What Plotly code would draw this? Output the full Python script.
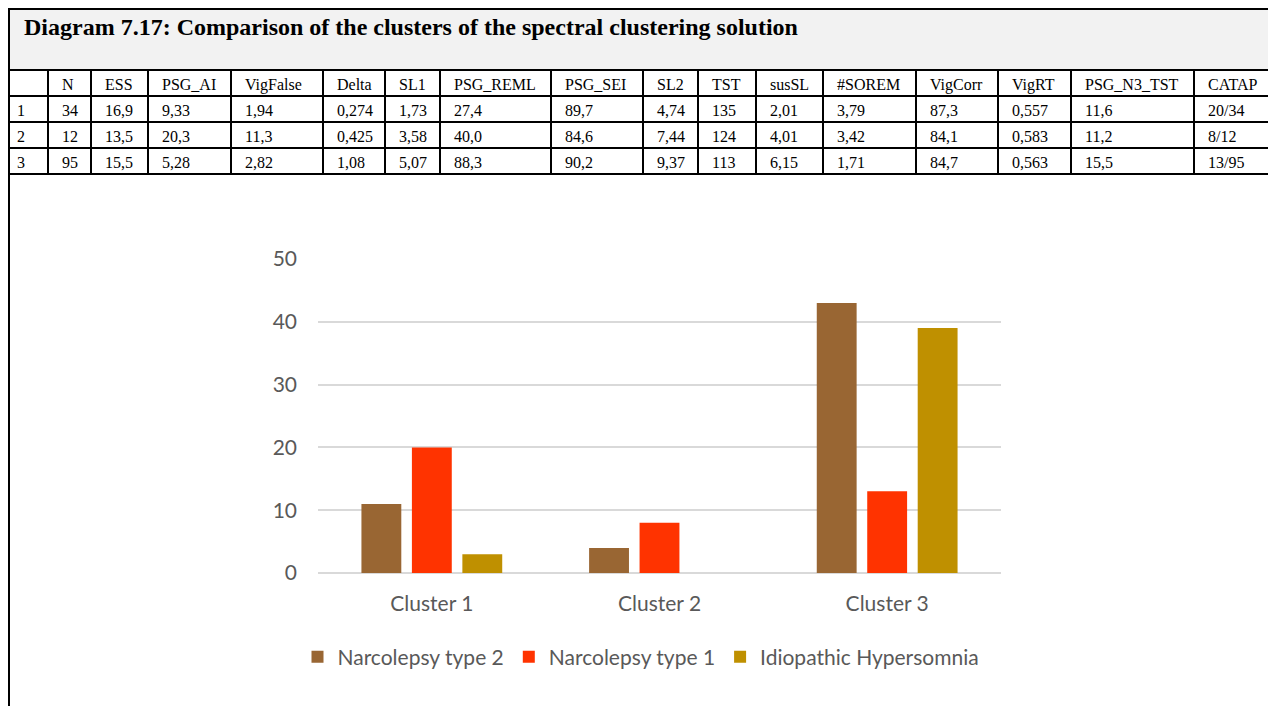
import plotly.graph_objects as go

# ---------------- data ----------------
clusters = ["Cluster 1", "Cluster 2", "Cluster 3"]
nt2 = [11, 4, 43]   # Narcolepsy type 2
nt1 = [20, 8, 13]   # Narcolepsy type 1
ih = [3, 0, 39]     # Idiopathic Hypersomnia
series_names = ["Narcolepsy type 2", "Narcolepsy type 1", "Idiopathic Hypersomnia"]
series_colors = ["#996633", "#FF3300", "#BF9000"]

title_text = "Diagram 7.17: Comparison of the clusters of the spectral clustering solution"

table_header = ["", "N", "ESS", "PSG_AI", "VigFalse", "Delta", "SL1", "PSG_REML",
                "PSG_SEI", "SL2", "TST", "susSL", "#SOREM", "VigCorr", "VigRT",
                "PSG_N3_TST", "CATAP"]
row_1 = ["1", "34", "16,9", "9,33", "1,94", "0,274", "1,73", "27,4", "89,7", "4,74",
         "135", "2,01", "3,79", "87,3", "0,557", "11,6", "20/34"]
row_2 = ["2", "12", "13,5", "20,3", "11,3", "0,425", "3,58", "40,0", "84,6", "7,44",
         "124", "4,01", "3,42", "84,1", "0,583", "11,2", "8/12"]
row_3 = ["3", "95", "15,5", "5,28", "2,82", "1,08", "5,07", "88,3", "90,2", "9,37",
         "113", "6,15", "1,71", "84,7", "0,563", "15,5", "13/95"]

# ---------------- layout helpers ----------------
W, H = 1276, 706
OFF = 8  # page body margin: screen pixel = figure pixel + 8


def px(x):
    return (x - OFF) / W


def py(y):
    return 1 - (y - OFF) / H


col_widths = [39, 43, 57, 83, 92, 62, 55, 111, 92, 55, 58, 67, 93, 82, 73, 123, 83]
TEXT_SHIFT = 6  # extra left padding of cell text (except first column)
text_widths = [col_widths[0] + TEXT_SHIFT] + col_widths[1:-1] + [col_widths[-1] - TEXT_SHIFT]

fig = go.Figure()

for name, vals, col in zip(series_names, [nt2, nt1, ih], series_colors):
    fig.add_trace(go.Bar(x=clusters, y=vals, name=name, marker_color=col,
                         marker_line_width=0))

rows = [row_1, row_2, row_3]
cell_cols = [list(c) for c in zip(*rows)]
blank_cols = [["" for _ in c] for c in cell_cols]

table_dom = dict(x=[px(9), px(9) + sum(col_widths) / W], y=[py(300), py(70)])
tfont = dict(family="Liberation Serif", size=16, color="black")

# grid of the table (lines only)
fig.add_trace(go.Table(
    domain=table_dom,
    columnwidth=col_widths,
    header=dict(values=["" for _ in table_header], height=26,
                fill_color="white", line=dict(color="black", width=2), font=tfont),
    cells=dict(values=blank_cols, height=26,
               fill_color="white", line=dict(color="black", width=2), font=tfont),
))

# texts of the table
fig.add_trace(go.Table(
    domain=table_dom,
    columnwidth=text_widths,
    header=dict(values=table_header, height=26, align="left",
                fill_color="rgba(0,0,0,0)", line=dict(color="rgba(0,0,0,0)", width=0),
                font=tfont),
    cells=dict(values=cell_cols, height=26, align="left",
               fill_color="rgba(0,0,0,0)", line=dict(color="rgba(0,0,0,0)", width=0),
               font=tfont),
))

axis_font = dict(family="Lato", size=21, color="#595959")

fig.update_layout(
    width=W, height=H,
    margin=dict(l=0, r=0, t=0, b=0, autoexpand=False),
    paper_bgcolor="white", plot_bgcolor="white",
    barmode="group", bargap=0.335, bargroupgap=0.21,
    xaxis=dict(domain=[px(318), px(1001)], showgrid=False, showline=False,
               ticks="", tickfont=axis_font, ticklabelstandoff=16,
               automargin=False),
    yaxis=dict(domain=[py(573), py(259)], range=[0, 50], dtick=10,
               showgrid=True, gridcolor="#d9d9d9", gridwidth=2,
               zeroline=True, zerolinecolor="#d9d9d9", zerolinewidth=2,
               showline=False, ticks="", tickfont=axis_font, ticklabelstandoff=20,
               automargin=False),
    legend=dict(orientation="h", x=px(641), xanchor="center",
                y=py(657), yanchor="middle", font=axis_font,
                traceorder="normal", bgcolor="rgba(0,0,0,0)"),
    shapes=[
        dict(type="rect", xref="paper", yref="paper",
             x0=px(9), x1=1.02, y0=py(70), y1=py(9),
             fillcolor="#f2f2f2", line=dict(color="black", width=2)),
        dict(type="line", xref="paper", yref="paper",
             x0=px(9), x1=px(9), y0=py(9), y1=-0.02,
             line=dict(color="black", width=2)),
    ],
    annotations=[
        dict(text="<b>" + title_text + "</b>", xref="paper", yref="paper",
             x=px(22), y=py(27), xanchor="left", yanchor="middle",
             showarrow=False,
             font=dict(family="Liberation Serif", size=24, color="black")),
    ],
)

fig.write_html("out.html")
